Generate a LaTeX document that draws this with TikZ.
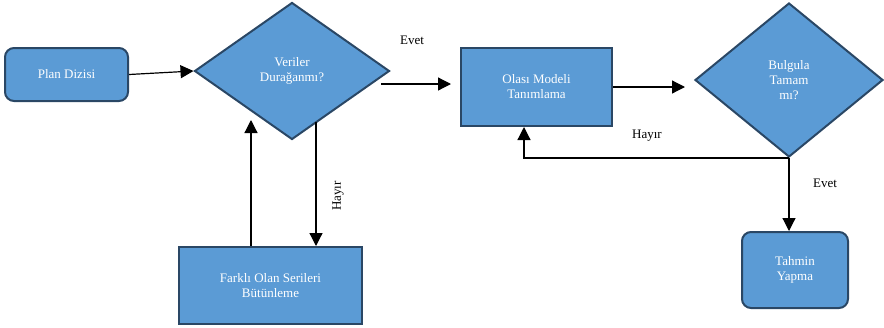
\documentclass[tikz,border=0pt]{standalone}
\usepackage{fontspec}
\setmainfont{Liberation Serif}
\usetikzlibrary{shapes.geometric,arrows.meta,calc}
\definecolor{boxfill}{HTML}{5B9BD5}
\definecolor{boxline}{HTML}{2A4765}
\begin{document}
\begin{tikzpicture}[x=1pt,y=-1pt,
  font=\fontsize{13}{15}\selectfont,
  base/.style={draw=boxline,fill=boxfill,line width=2pt,text=white,align=center,inner sep=0pt},
  procbox/.style={base,rectangle},
  roundbox/.style={base,rectangle,rounded corners=9pt},
  decision/.style={base,diamond},
  arr/.style={line width=1.2pt,-{Triangle[length=13pt,width=13pt]}},
  lbl/.style={text=black}]
\useasboundingbox (0,0) rectangle (884,327);

% process steps
\node[roundbox,minimum width=123pt,minimum height=53pt] (pd) at (66.5,74.5) {Plan Dizisi};
\node[decision,minimum width=195pt,minimum height=137pt] (d1) at (292,71) {Veriler\\Durağanmı?};
\node[procbox,minimum width=151pt,minimum height=78pt] (ol) at (536.5,87) {Olası Modeli\\Tanımlama};
\node[decision,minimum width=188pt,minimum height=154pt] (d2) at (789,80) {Bulgula\\Tamam\\mı?};
\node[procbox,minimum width=183pt,minimum height=77pt] (fa) at (270.5,285.5) {Farklı Olan Serileri\\Bütünleme};
\node[roundbox,minimum width=106pt,minimum height=76pt] (th) at (795,270) {Tahmin\\Yapma};

% connector end points
\coordinate (e1) at (381,84);
\coordinate (hs) at (316,122);
\coordinate (hf) at ([xshift=45.5pt]fa.north);
\coordinate (uf) at ([xshift=-19.5pt]fa.north);
\coordinate (ut) at (251,120);
\coordinate (hb) at ([xshift=-12.5pt]ol.south);

% connectors
\draw[arr] (pd.east) -- (d1.west);
\draw[arr,shorten >=9pt] (e1) -- (e1 -| ol.west);
\draw[arr,shorten >=9pt] (ol.east) -- (ol.east -| d2.west);
\draw[arr] (d2.south) -- (d2.south |- th.north);
\draw[arr] (d2.south) -| (hb);
\draw[arr] (hs) -- (hf);
\draw[arr] (uf) -- (ut);

% branch labels
\node[lbl] (l1) at (412,40) {Evet};
\node[lbl] (l2) at (647,136) {Hayır};
\node[lbl] (l3) at (825,183) {Evet};
\node[lbl,rotate=90] (l4) at (338,196) {Hayır};
\end{tikzpicture}
\end{document}
